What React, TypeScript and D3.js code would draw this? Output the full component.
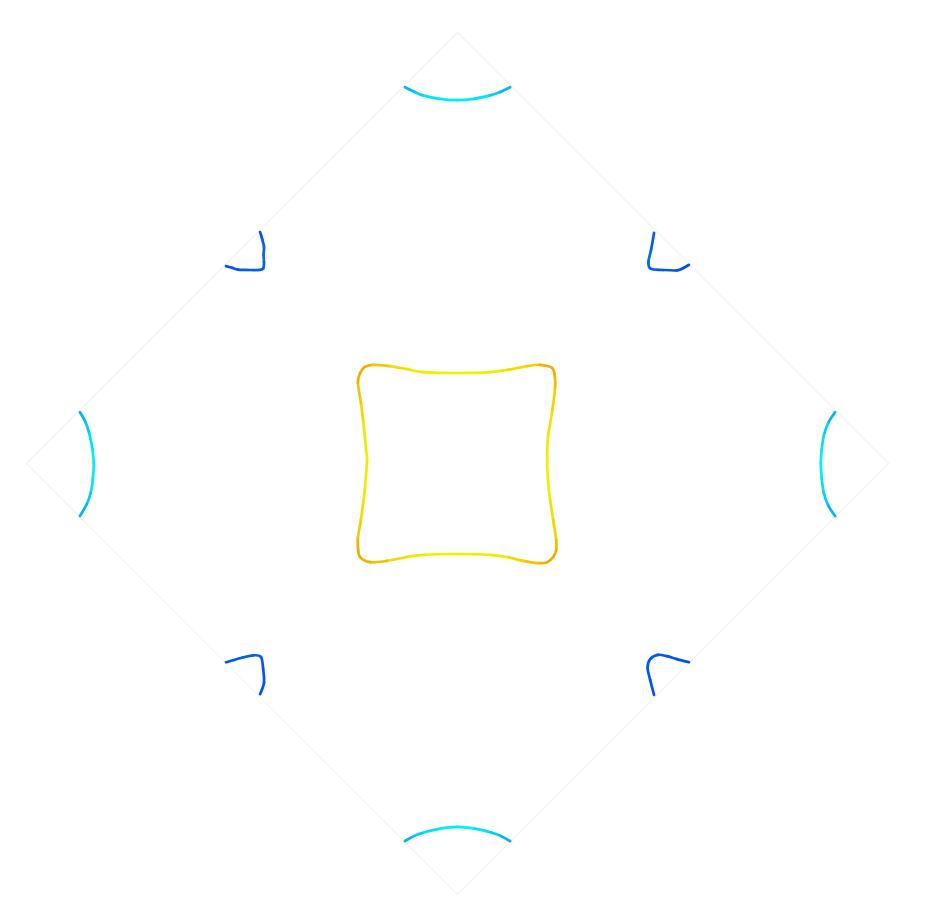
import { useMemo } from "react";
import * as d3 from "d3";

// plane is [-100,100] on both axes, diamond = domain edge
const boundary: [number, number][] = [[0, 100], [100, 0], [0, -100], [-100, 0]];

// [x, y, level]
const ringCenter: [number, number, number][] = [
  [0, 21.0, 3.0], [7.5, 21.2, 3.05], [11.5, 21.7, 3.2], [16.1, 22.6, 3.45], [19.1, 22.9, 3.65],
  [21.9, 22.2, 3.8], [22.6, 20.1, 3.75], [22.6, 17.1, 3.6], [21.9, 11.7, 3.3], [21.0, 6.1, 3.1],
  [20.8, 0.8, 3.0], [21.0, -3.8, 3.0], [21.5, -8.5, 3.1], [22.2, -13.1, 3.35], [22.9, -17.7, 3.6],
  [22.9, -20.1, 3.75], [22.2, -21.7, 3.8], [20.8, -22.9, 3.8], [18.7, -23.1, 3.7], [15.2, -22.6, 3.5],
  [11.5, -21.7, 3.25], [7.5, -21.2, 3.05], [0, -21.0, 3.0], [-7.8, -21.2, 3.05], [-11.7, -21.7, 3.2],
  [-16.4, -22.6, 3.5], [-20.3, -22.9, 3.75], [-22.6, -21.7, 3.8], [-23.1, -19.4, 3.8], [-23.1, -17.1, 3.65],
  [-22.4, -13.1, 3.4], [-21.9, -9.2, 3.2], [-21.5, -6.1, 3.1], [-21.0, 0.8, 3.0], [-21.2, 3.1, 3.0],
  [-21.9, 10.1, 3.25], [-22.4, 14.0, 3.45], [-23.1, 18.7, 3.7], [-22.6, 21.0, 3.8], [-21.5, 22.4, 3.8],
  [-19.6, 22.9, 3.7], [-15.7, 22.6, 3.45], [-11.7, 21.9, 3.2], [-8.0, 21.2, 3.05],
];

const arcTop: [number, number, number][] = [
  [-12.2, 87.3, 1.0], [-9.9, 86.2, 1.4], [-8.0, 85.4, 1.7], [-4.1, 84.6, 1.95], [0, 84.3, 2.0],
  [3.8, 84.6, 1.95], [7.5, 85.4, 1.7], [9.9, 86.2, 1.4], [12.2, 87.3, 1.0],
];
const arcBottom: [number, number, number][] = [
  [-12.2, -87.6, 1.0], [-10.0, -86.4, 1.35], [-7.8, -85.6, 1.65], [-4.0, -84.7, 1.95], [0, -84.3, 2.0],
  [4.0, -84.7, 1.95], [7.8, -85.6, 1.65], [10.0, -86.4, 1.35], [12.2, -87.6, 1.0],
];
const arcLeft: [number, number, number][] = [
  [-87.6, 11.9, 1.0], [-86.3, 9.6, 1.35], [-85.4, 6.8, 1.65], [-84.7, 3.3, 1.95], [-84.4, 0, 2.0],
  [-84.6, -3.5, 1.95], [-85.1, -6.8, 1.7], [-86.0, -9.4, 1.4], [-87.6, -12.2, 1.0],
];
const arcRight: [number, number, number][] = [
  [87.6, 11.9, 1.0], [86.0, 9.4, 1.4], [85.0, 6.5, 1.7], [84.5, 3.2, 1.95], [84.3, 0, 2.0],
  [84.5, -3.4, 1.95], [85.0, -6.9, 1.7], [86.0, -9.7, 1.4], [87.6, -12.2, 1.0],
];

const hookTL: [number, number, number][] = [
  [-45.8, 53.7, 0.2], [-45.3, 52.0, 0.35], [-44.9, 50.3, 0.5], [-45.0, 48.4, 0.6], [-44.9, 46.7, 0.55],
  [-45.1, 45.2, 0.45], [-46.3, 44.9, 0.4], [-48.6, 44.9, 0.45], [-50.9, 45.0, 0.4], [-52.3, 45.4, 0.3],
  [-53.7, 45.8, 0.2],
];
const hookTR: [number, number, number][] = [
  [45.6, 53.5, 0.2], [44.9, 49.5, 0.55], [44.3, 46.8, 0.6], [44.8, 45.2, 0.4], [47.7, 44.9, 0.35],
  [50.9, 44.8, 0.3], [52.3, 45.3, 0.25], [53.7, 46.1, 0.2],
];
const hookBL: [number, number, number][] = [
  [-53.7, -46.1, 0.2], [-49.8, -45.0, 0.4], [-47.4, -44.5, 0.5], [-45.6, -44.9, 0.35], [-45.1, -47.6, 0.35],
  [-44.9, -50.9, 0.3], [-45.8, -53.5, 0.2],
];
const hookBR: [number, number, number][] = [
  [53.7, -46.1, 0.2], [50.9, -45.4, 0.3], [48.6, -44.7, 0.35], [46.5, -44.4, 0.4], [44.7, -45.4, 0.4],
  [44.1, -47.4, 0.4], [44.7, -50.2, 0.3], [45.6, -53.7, 0.2],
];

const levelStops = [0, 0.5, 1, 2, 3, 3.5, 3.8];
const levelColors = ["#0044f0", "#0062f0", "#00a8f0", "#00f2f0", "#f0f000", "#f2d200", "#f5aa00"];

const W = 928;
const H = 911;

export default function App() {
  const x = d3.scaleLinear().domain([-100, 100]).range([26.5, 888.5]);
  const y = d3.scaleLinear().domain([-100, 100]).range([894.5, 32.5]);
  const color = d3.scaleLinear<string>().domain(levelStops).range(levelColors).interpolate(d3.interpolateRgb);

  const outline = d3.line<[number, number]>()
    .x(d => x(d[0]))
    .y(d => y(d[1]))
    .curve(d3.curveLinearClosed);

  const pieces = useMemo(() => {
    const sets = [
      { pts: ringCenter, closed: true },
      { pts: arcTop, closed: false },
      { pts: arcBottom, closed: false },
      { pts: arcLeft, closed: false },
      { pts: arcRight, closed: false },
      { pts: hookTL, closed: false },
      { pts: hookTR, closed: false },
      { pts: hookBL, closed: false },
      { pts: hookBR, closed: false },
    ];
    const out: { d: string; z: number }[] = [];
    sets.forEach(s => {
      const p = s.pts.map(q => [x(q[0]), y(q[1]), q[2]]);
      const n = p.length;
      const at = (i: number) => {
        if (s.closed) return p[(i + n) % n];
        return p[Math.max(0, Math.min(n - 1, i))];
      };
      const m = s.closed ? n : n - 1;
      // catmull-rom pieces so each piece can carry its own colour
      for (let i = 0; i < m; i++) {
        const p0 = at(i - 1), p1 = at(i), p2 = at(i + 1), p3 = at(i + 2);
        const c1x = p1[0] + (p2[0] - p0[0]) / 6;
        const c1y = p1[1] + (p2[1] - p0[1]) / 6;
        const c2x = p2[0] - (p3[0] - p1[0]) / 6;
        const c2y = p2[1] - (p3[1] - p1[1]) / 6;
        const path = d3.path();
        path.moveTo(p1[0], p1[1]);
        path.bezierCurveTo(c1x, c1y, c2x, c2y, p2[0], p2[1]);
        out.push({ d: path.toString(), z: (p1[2] + p2[2]) / 2 });
      }
    });
    return out;
  }, []);

  return (
    <svg width={W} height={H} style={{ position: "absolute", left: 0, top: 0, background: "#fff" }}>
      <path d={outline(boundary) ?? ""} fill="none" stroke="#f2f2f2" strokeWidth={1.2} />
      <g fill="none" strokeWidth={2.7} strokeLinecap="round">
        {pieces.map((s, i) => (
          <path key={i} d={s.d} stroke={color(s.z)} />
        ))}
      </g>
    </svg>
  );
}
